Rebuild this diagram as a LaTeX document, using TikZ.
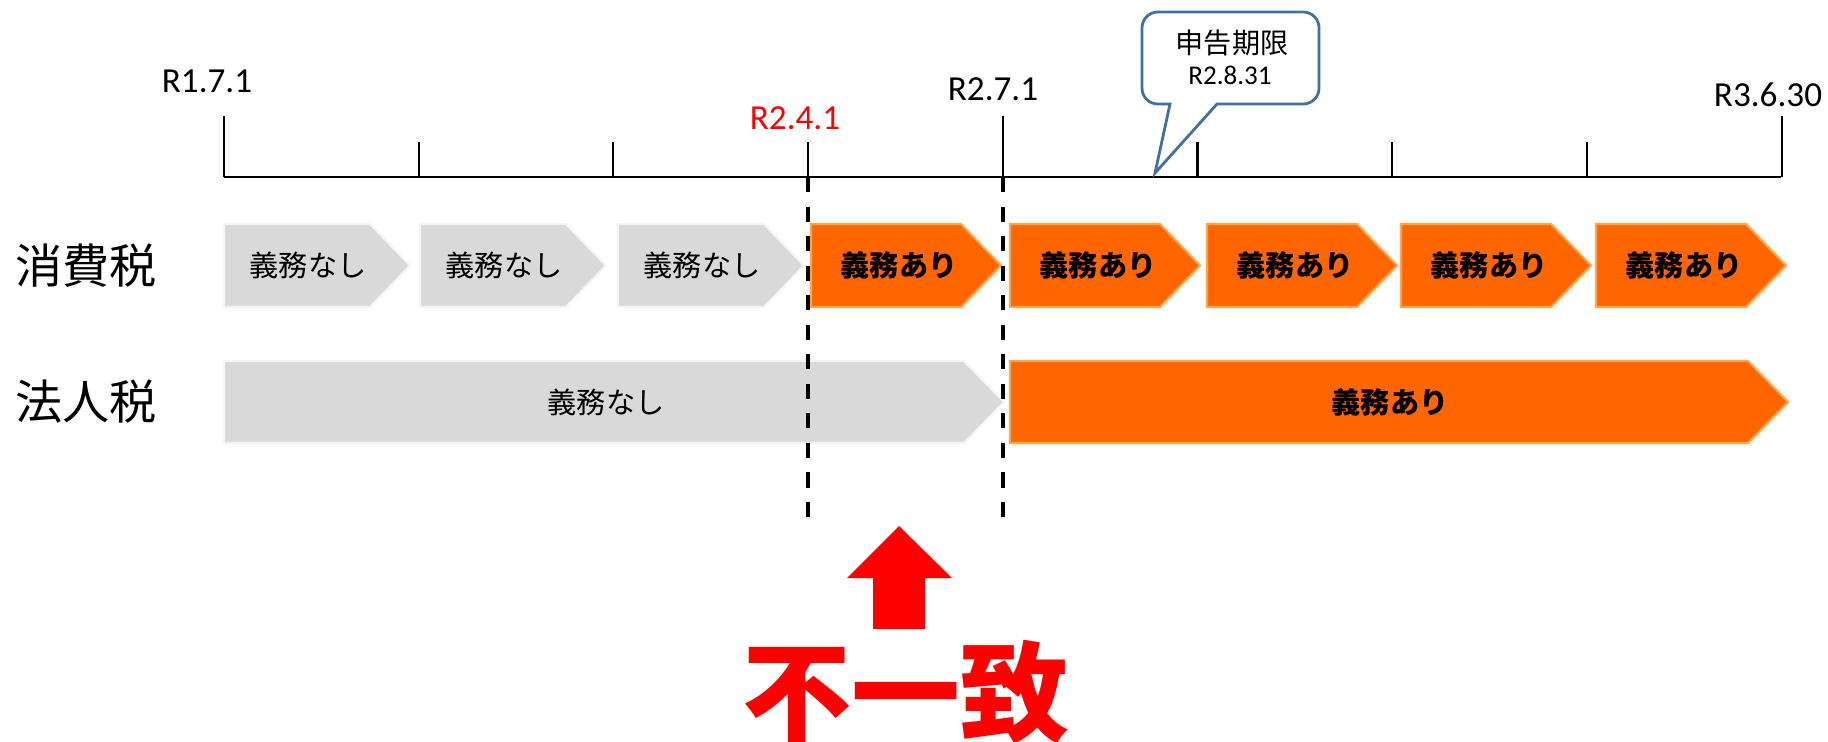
\documentclass[tikz,border=0pt]{standalone}
\usepackage{fontspec}
\setmainfont{Carlito}
\newfontfamily\jpfont{Noto Sans CJK JP}
\usetikzlibrary{arrows.meta, positioning}

\definecolor{nashigray}{HTML}{D9D9D9}
\definecolor{ariorange}{HTML}{FF6600}
\definecolor{calloutblue}{HTML}{41719C}

\begin{document}
\begin{tikzpicture}[x=0.01cm, y=-0.01cm,
    nashi/.style={fill=nashigray, draw=gray!8, line width=0.6pt},
    ari/.style={fill=ariorange, draw=orange!70!white, line width=0.6pt},
    nashitext/.style={font=\jpfont\fontsize{8.3}{10}\selectfont},
    aritext/.style={font=\jpfont\bfseries\fontsize{8.3}{10}\selectfont},
    datelabel/.style={font=\fontsize{10}{12}\selectfont, anchor=base},
    rowlabel/.style={font=\jpfont\fontsize{13.4}{16}\selectfont},
    cutline/.style={black, line width=1.2pt, dash pattern=on 4.3pt off 4.1pt}]
  \useasboundingbox (0,0) rectangle (1828,741);

  % Timeline with ticks
  \draw[line width=0.8pt] (224,177) -- (1781,177);
  \foreach \i/\h in {0/61,1/35,2/35,3/35,4/61,5/35,6/35,7/35,8/61} {
    \coordinate (t\i) at (224+\i*194.7,177);
    \draw[line width=0.6pt] (t\i) -- ++(0,-\h);
  }
  \node[datelabel] (d0) at (207,92) {R1.7.1};
  \node[datelabel, red] (d3) at (795,129) {R2.4.1};
  \node[datelabel] (d4) at (993,100) {R2.7.1};
  \node[datelabel] (d8) at (1768,106) {R3.6.30};

  % Callout: filing deadline
  \draw[calloutblue, line width=0.8pt, fill=white] (1217,104) [rounded corners=4.5pt]-- (1319,104) -- (1319,12) -- (1142,12) -- (1142,104) [sharp corners]-- (1170,104) -- (1155,173) -- cycle;
  \node[font=\jpfont\fontsize{8}{10}\selectfont] (deadline) at (1232,43) {申告期限};
  \node[font=\fontsize{7.7}{9}\selectfont, anchor=base] (deadlinedate) at (1230,84) {R2.8.31};

  % Row labels
  \node[rowlabel] (shohizei) at (86,266) {消費税};
  \node[rowlabel] (hojinzei) at (86,402) {法人税};

  % Consumption tax: quarterly chevrons
  \foreach \n/\x in {1/224, 2/420, 3/618} {
    \draw[nashi] (\x,224) -- ++(146,0) -- ++(40,41.5) -- ++(-40,41.5) -- ++(-146,0) -- cycle;
    \node[nashitext] (sn\n) at (\x+84,265.5) {義務なし};
  }
  \foreach \n/\x in {4/811, 5/1010, 6/1207, 7/1401, 8/1596} {
    \draw[ari] (\x,224) -- ++(150,0) -- ++(40,41.5) -- ++(-40,41.5) -- ++(-150,0) -- cycle;
    \node[aritext] (sa\n) at (\x+88,265.5) {義務あり};
  }

  % Corporate tax: two long chevrons
  \draw[nashi] (224,361) -- (964,361) -- (1004,402) -- (964,443) -- (224,443) -- cycle;
  \node[nashitext] (hn) at (606,402) {義務なし};
  \draw[ari] (1010,361) -- (1748,361) -- (1788,402) -- (1748,443) -- (1010,443) -- cycle;
  \node[aritext] (ha) at (1390,402) {義務あり};

  % Mismatch window
  \draw[cutline] (t3) -- ++(0,340);
  \draw[cutline] (t4) -- ++(0,340);
  \fill[red] (899,526) -- (952,578) -- (925,578) -- (925,629) -- (873,629) -- (873,578) -- (847,578) -- cycle;
  \node[font=\jpfont\bfseries\fontsize{31}{36}\selectfont, text=red, anchor=base] (fuicchi) at (906,733) {不一致};
\end{tikzpicture}
\end{document}
